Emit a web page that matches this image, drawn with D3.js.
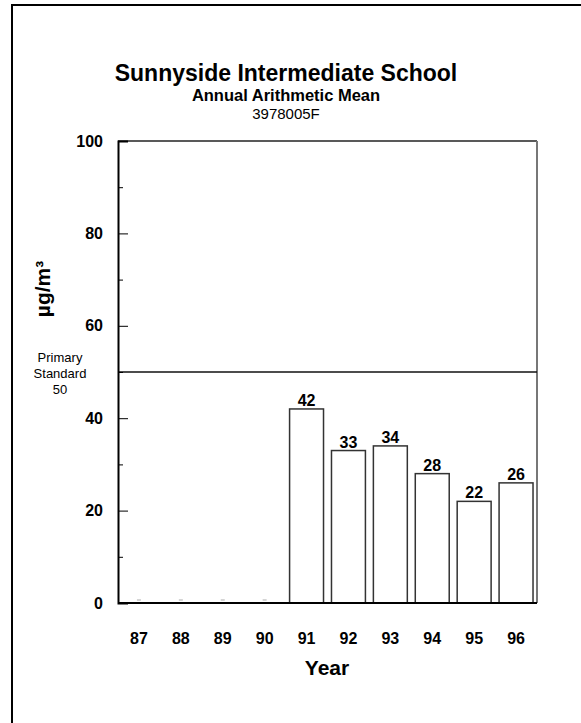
<!DOCTYPE html>
<html><head><meta charset="utf-8">
<script src="https://cdn.jsdelivr.net/npm/d3@7"></script>
<style>body{margin:0;background:#fff}svg{display:block}text{font-family:"Liberation Sans",Arial,sans-serif}</style>
</head><body><svg id="c" width="581" height="723"></svg>
<script>
const years = ["87","88","89","90","91","92","93","94","95","96"];
const values = [null,null,null,null,42,33,34,28,22,26];
const yTicks = [0,20,40,60,80,100];
const yMinor = [10,30,50,70,90];
const standard = 50;

const svg = d3.select("#c");
const m = {l:118, r:537, t:141, b:603};
const x = d3.scaleBand().domain(years).range([m.l, m.r]).paddingInner(0.19).paddingOuter(0.095);
const y = d3.scaleLinear().domain([0,100]).range([m.b, m.t]);

// outer border
svg.append("path").attr("d","M12,723 V5 H581").attr("fill","none").attr("stroke","#000").attr("stroke-width",2);

// titles
svg.append("text").attr("x",286).attr("y",81).attr("text-anchor","middle").attr("font-size",23).attr("font-weight","bold").text("Sunnyside Intermediate School");
svg.append("text").attr("x",286).attr("y",101).attr("text-anchor","middle").attr("font-size",16.5).attr("font-weight","bold").text("Annual Arithmetic Mean");
svg.append("text").attr("x",286).attr("y",119).attr("text-anchor","middle").attr("font-size",15).text("3978005F");

// plot frame: top & right
svg.append("line").attr("x1",m.l).attr("x2",m.r).attr("y1",m.t).attr("y2",m.t).attr("stroke","#222").attr("stroke-width",1.5);
svg.append("line").attr("x1",m.r).attr("x2",m.r).attr("y1",m.t).attr("y2",m.b).attr("stroke","#777").attr("stroke-width",2);

// bars
const bw = x.bandwidth();
years.forEach((yr,i)=>{
  const v = values[i];
  if (v == null) {
    svg.append("line").attr("x1",x(yr)+bw/2-2).attr("x2",x(yr)+bw/2+2).attr("y1",m.b-3).attr("y2",m.b-3).attr("stroke","#aaa").attr("stroke-width",1);
    return;
  }
  svg.append("rect").attr("x",x(yr)).attr("y",y(v)).attr("width",bw).attr("height",y(0)-y(v))
    .attr("fill","#fff").attr("stroke","#333").attr("stroke-width",1.5);
  svg.append("text").attr("x",x(yr)+bw/2).attr("y",y(v)-3).attr("text-anchor","middle").attr("font-size",16).attr("font-weight","bold").text(v);
});

// standard line
svg.append("line").attr("x1",m.l).attr("x2",m.r).attr("y1",y(standard)).attr("y2",y(standard)).attr("stroke","#111").attr("stroke-width",1.5);
svg.append("text").attr("text-anchor","middle").attr("font-size",13)
  .selectAll("tspan").data(["Primary","Standard",String(standard)]).join("tspan")
  .attr("x",60).attr("y",(d,i)=>y(standard)-10+i*16).text(d=>d);

// y axis
const yAxis = d3.axisLeft(y).tickValues(yTicks).tickSize(-10).tickPadding(15);
const ga = svg.append("g").attr("transform",`translate(${m.l},0)`).call(yAxis);
ga.select(".domain").attr("stroke","#000").attr("stroke-width",2);
ga.selectAll(".tick line").attr("stroke","#000").attr("stroke-width",1);
ga.selectAll(".tick text").attr("font-size",16).attr("font-weight","bold").attr("fill","#000").attr("font-family","Liberation Sans, Arial, sans-serif");
const gm = svg.append("g").attr("transform",`translate(${m.l},0)`).call(d3.axisLeft(y).tickValues(yMinor).tickSize(-5).tickFormat(""));
gm.select(".domain").remove();
gm.selectAll(".tick line").attr("stroke","#000");

// x axis
const gx = svg.append("g").attr("transform",`translate(0,${m.b})`).call(d3.axisBottom(x).tickSize(0).tickPadding(30));
gx.select(".domain").attr("stroke","#000").attr("stroke-width",2).attr("d",`M${m.l},0H${m.r}`);
gx.selectAll(".tick text").attr("font-size",16).attr("font-weight","bold").attr("fill","#000").attr("font-family","Liberation Sans, Arial, sans-serif");

// axis titles
svg.append("text").attr("x",327).attr("y",675).attr("text-anchor","middle").attr("font-size",21).attr("font-weight","bold").text("Year");
svg.append("text").attr("transform","translate(50,289) rotate(-90)").attr("text-anchor","middle").attr("font-size",21).attr("font-weight","bold").text("µg/m³");
</script></body></html>
